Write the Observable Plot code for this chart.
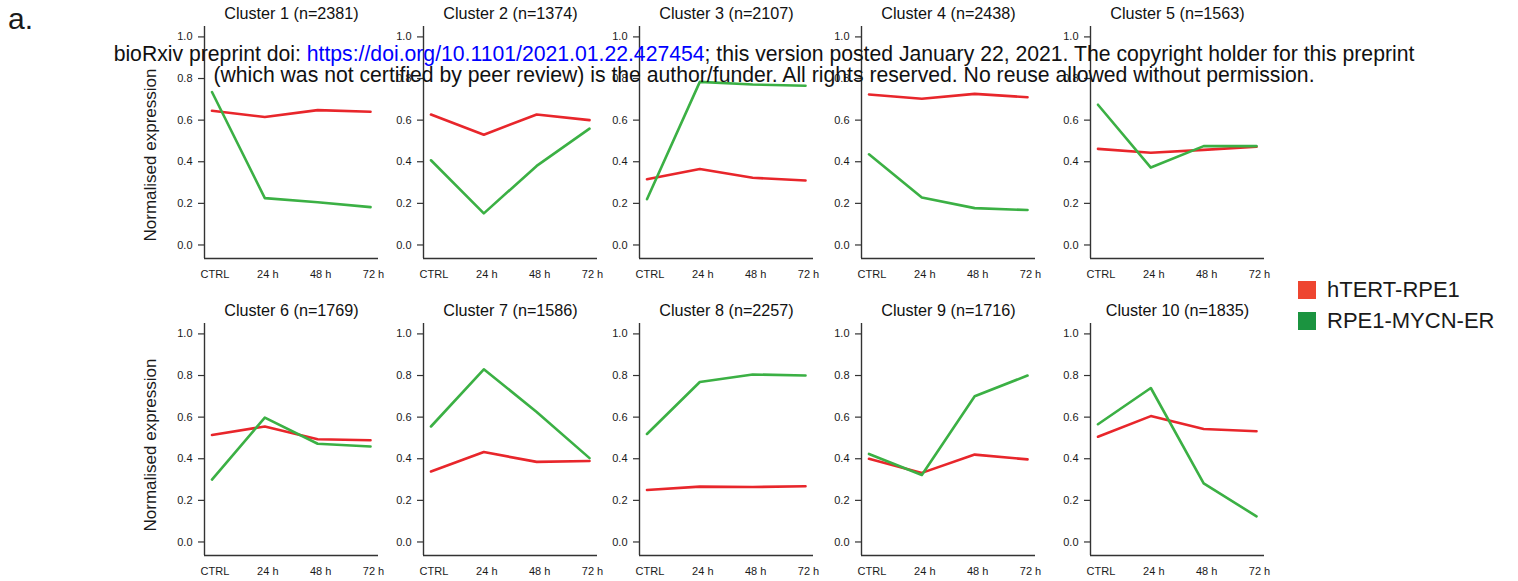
<!DOCTYPE html>
<html><head><meta charset="utf-8">
<script src="https://cdn.jsdelivr.net/npm/d3@7"></script>
<script src="https://cdn.jsdelivr.net/npm/@observablehq/plot@0.6"></script>
<style>
body{margin:0;background:#fff;font-family:"Liberation Sans",Arial,Helvetica,sans-serif;color:#1a1a1a}
#root{position:relative;width:1518px;height:581px;overflow:hidden;background:#fff}
.abs{position:absolute;white-space:nowrap}
.ylab{font-size:17px;transform:translate(-50%,-50%) rotate(-90deg);}
.sw{position:absolute;width:18px;height:18px}
.lg{font-size:22px;line-height:22px}
#wm{left:0;width:1528px;text-align:center;font-size:21.2px;line-height:21px;top:43px;color:#111}
#wm a{color:#0000ff;text-decoration:none}
</style></head><body><div id="root"></div>
<script>
// ---- data ----
const clusters = ["Cluster 1 (n=2381)","Cluster 2 (n=1374)","Cluster 3 (n=2107)","Cluster 4 (n=2438)","Cluster 5 (n=1563)",
                  "Cluster 6 (n=1769)","Cluster 7 (n=1586)","Cluster 8 (n=2257)","Cluster 9 (n=1716)","Cluster 10 (n=1835)"];
const timepoints = ["CTRL","24 h","48 h","72 h"];
const seriesNames = ["hTERT-RPE1","RPE1-MYCN-ER"];
const hTERT = [
  [0.645,0.615,0.648,0.640],
  [0.627,0.530,0.627,0.600],
  [0.316,0.365,0.323,0.310],
  [0.723,0.703,0.726,0.710],
  [0.462,0.443,0.457,0.472],
  [0.514,0.555,0.494,0.489],
  [0.339,0.432,0.385,0.389],
  [0.250,0.266,0.264,0.268],
  [0.400,0.332,0.420,0.397],
  [0.506,0.605,0.543,0.532]
];
const mycn = [
  [0.735,0.225,0.205,0.182],
  [0.407,0.152,0.380,0.559],
  [0.220,0.784,0.771,0.765],
  [0.436,0.228,0.177,0.168],
  [0.674,0.372,0.475,0.475],
  [0.300,0.598,0.472,0.459],
  [0.555,0.830,0.625,0.403],
  [0.519,0.769,0.805,0.800],
  [0.423,0.322,0.700,0.800],
  [0.566,0.740,0.282,0.123]
];
const yTicks = [0,0.2,0.4,0.6,0.8,1.0];
const yLabel = "Normalised expression";

// ---- layout ----
const colors = ["#e8262b","#3bb044"];
const legendColors = ["#ee4530","#1b9440"];
const axisX = [204,423,639,861,1090];
const rowTop = [0,297];
const ML = 46, MR = 14, FRAME_W = 174;
const xDom = [-0.1415, 3.151];
const yDom = [-0.065, 1.05];

const root = document.getElementById("root");

clusters.forEach((title, i) => {
  const rows = [];
  timepoints.forEach((t, j) => {
    rows.push({t: j, v: hTERT[i][j], s: seriesNames[0]});
  });
  timepoints.forEach((t, j) => {
    rows.push({t: j, v: mycn[i][j], s: seriesNames[1]});
  });
  const svg = Plot.plot({
    width: ML + FRAME_W + MR, height: 290,
    marginLeft: ML, marginRight: MR, marginTop: 26, marginBottom: 32,
    style: {fontFamily: '"Liberation Sans",Arial,sans-serif', fontSize: "11px", color: "#1a1a1a", background: "transparent", overflow: "visible"},
    x: {domain: xDom, axis: null},
    y: {domain: yDom, axis: null},
    color: {domain: seriesNames, range: colors},
    marks: [
      Plot.axisY({ticks: yTicks, tickFormat: d3.format(".1f"), tickSize: 6, tickPadding: 6, label: null, fontSize: 11, stroke: "#333", strokeWidth: 1.2}),
      Plot.axisX({ticks: [0,1,2,3], tickFormat: d => timepoints[d], tickSize: 0, tickPadding: 12, dx: 3, label: null, fontSize: 11}),
      Plot.ruleX([xDom[0]], {y1: yDom[0], y2: yDom[1], stroke: "#333", strokeWidth: 1.4}),
      Plot.ruleY([yDom[0]], {x1: xDom[0], x2: xDom[1], stroke: "#333", strokeWidth: 1.4}),
      Plot.line(rows, {x: "t", y: "v", z: "s", stroke: "s", strokeWidth: 2.6}),
      Plot.text([title], {frameAnchor: "top", dy: -8, lineAnchor: "bottom", fontSize: 16.2, fill: "#111"})
    ]
  });
  svg.style.position = "absolute";
  svg.style.left = (axisX[i % 5] - ML) + "px";
  svg.style.top = rowTop[Math.floor(i / 5)] + "px";
  root.appendChild(svg);
});

function addDiv(cls, text, styleObj) {
  const d = document.createElement("div");
  d.className = "abs " + cls;
  d.textContent = text;
  Object.assign(d.style, styleObj);
  root.appendChild(d);
  return d;
}
// y labels
addDiv("ylab", yLabel, {left: "151px", top: "155px"});
addDiv("ylab", yLabel, {left: "151px", top: "445px"});
// panel letter
addDiv("", "a.", {left: "8px", top: "2px", fontSize: "30px", lineHeight: "34px"});
// legend
seriesNames.forEach((s, k) => {
  const sw = document.createElement("div");
  sw.className = "sw";
  sw.style.left = "1298px";
  sw.style.top = (281 + k * 31) + "px";
  sw.style.background = legendColors[k];
  root.appendChild(sw);
  addDiv("lg", s, {left: "1327px", top: (279 + k * 31) + "px"});
});
// watermark overlay
const wm = document.createElement("div");
wm.className = "abs";
wm.id = "wm";
wm.innerHTML = 'bioRxiv preprint doi: <a>https://doi.org/10.1101/2021.01.22.427454</a>; this version posted January 22, 2021. The copyright holder for this preprint<br>(which was not certified by peer review) is the author/funder. All rights reserved. No reuse allowed without permission.';
root.appendChild(wm);
</script>
</body></html>
